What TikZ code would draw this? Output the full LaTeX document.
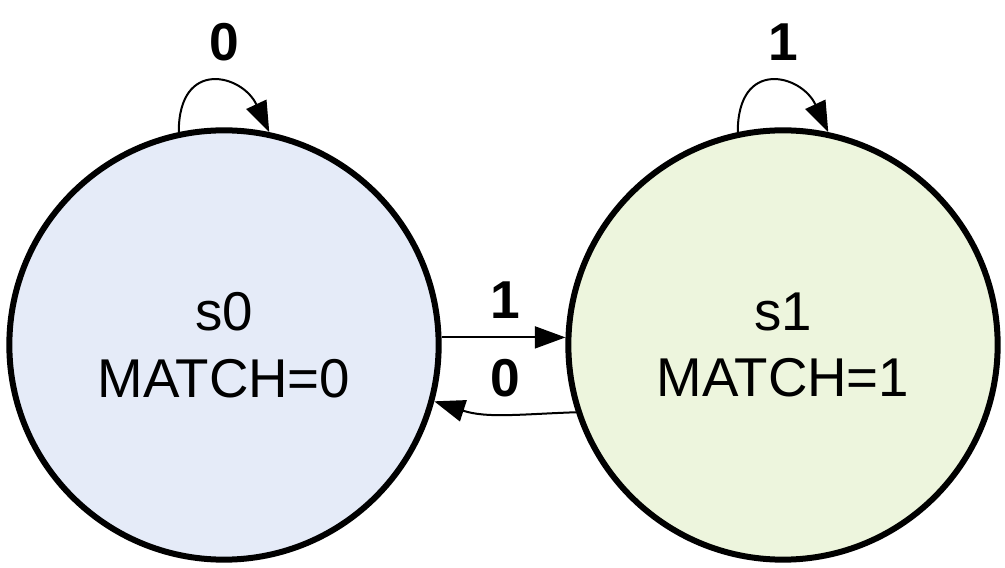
\documentclass[tikz,border=0pt]{standalone}
\usepackage{fontspec}
\setmainfont{Liberation Sans}
\usetikzlibrary{arrows.meta}
\definecolor{stateblue}{RGB}{229,235,248}
\definecolor{stategreen}{RGB}{237,245,221}

\begin{document}
\begin{tikzpicture}[x=0.75pt,y=0.75pt,
        state/.style={circle,draw,line width=4.5pt,minimum size=322pt,inner sep=0pt,align=center,font=\fontsize{41}{50}\selectfont},
        trans/.style={line width=1.5pt,-{Triangle[length=23pt,width=16.5pt]}},
        lbl/.style={inner sep=0pt,font=\fontsize{40}{48}\selectfont\bfseries}]
        \useasboundingbox (0,0) rectangle (1005,567);
        \node [state, fill=stateblue] (s0) at (224,222) {s0\\MATCH=0};
        \node [state, fill=stategreen] (s1) at (783,222) {s1\\MATCH=1};
        \draw [trans] (s0.102) .. controls +(90:74) and +(115:64) .. (s0.78);
        \draw [trans] (s1.102) .. controls +(90:74) and +(115:64) .. (s1.78);
        \draw [trans] (s0.2) -- (s1.178);
        \draw [trans] (s1.198) to [out=182,in=-18] (s0.-15);
        \node [lbl] (l00) at([yshift=64pt]s0.north) {0};
        \node [lbl] (l11) at([yshift=64pt]s1.north) {1};
        \node [lbl] (l01) at(505,267) {1};
        \node [lbl] (l10) at(505,189) {0};
    \end{tikzpicture}
\end{document}
